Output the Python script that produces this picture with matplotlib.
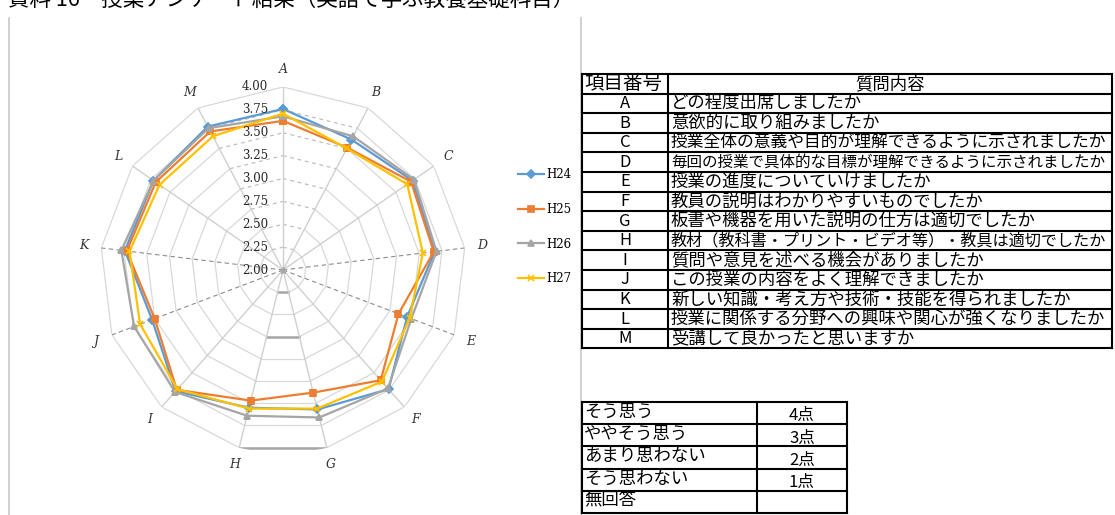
"""Radar chart of course survey results with the question table beside it."""

import matplotlib

matplotlib.use("Agg")
import matplotlib.pyplot as plt
import matplotlib.transforms as mtransforms
import numpy as np

JP_FONT = ["Noto Sans CJK JP", "DejaVu Sans"]
SERIF = "DejaVu Serif"

TITLE = "資料 16　授業アンケート結果（英語で学ぶ教養基礎科目）"

AXIS_LABELS = ["A", "B", "C", "D", "E", "F", "G", "H", "I", "J", "K", "L", "M"]
YEARS = ["H24", "H25", "H26", "H27"]
H24 = [3.76, 3.61, 3.72, 3.67, 3.45, 3.74, 3.57, 3.55, 3.77, 3.53, 3.74, 3.72, 3.77]
H25 = [3.63, 3.51, 3.70, 3.66, 3.35, 3.61, 3.38, 3.47, 3.75, 3.50, 3.72, 3.69, 3.71]
H26 = [3.68, 3.65, 3.74, 3.69, 3.50, 3.73, 3.66, 3.64, 3.78, 3.74, 3.78, 3.72, 3.75]
H27 = [3.71, 3.50, 3.65, 3.54, 3.48, 3.63, 3.56, 3.56, 3.74, 3.67, 3.69, 3.64, 3.65]
R_TICKS = [2.00, 2.25, 2.50, 2.75, 3.00, 3.25, 3.50, 3.75, 4.00]

COLORS = ["#5B9BD5", "#ED7D31", "#A5A5A5", "#FFC000"]
MARKERS = ["D", "s", "^", "x"]
DASHED_SPOKES = ["D", "E", "J", "K"]
DARK_HG_LEVELS = [2.25, 2.75, 4.00]

TABLE_HEADER = ["項目番号", "質問内容"]
QUESTIONS = [
    "どの程度出席しましたか",
    "意欲的に取り組みましたか",
    "授業全体の意義や目的が理解できるように示されましたか",
    "毎回の授業で具体的な目標が理解できるように示されましたか",
    "授業の進度についていけましたか",
    "教員の説明はわかりやすいものでしたか",
    "板書や機器を用いた説明の仕方は適切でしたか",
    "教材（教科書・プリント・ビデオ等）・教具は適切でしたか",
    "質問や意見を述べる機会がありましたか",
    "この授業の内容をよく理解できましたか",
    "新しい知識・考え方や技術・技能を得られましたか",
    "授業に関係する分野への興味や関心が強くなりましたか",
    "受講して良かったと思いますか",
]
SCALE_LABELS = ["そう思う", "ややそう思う", "あまり思わない", "そう思わない", "無回答"]
SCALE_POINTS = ["4点", "3点", "2点", "1点", ""]

W, H = 1115, 515


def draw_radar(fig):
    # center at (283, 270) px from top-left, outer radius 183 px
    ax = fig.add_axes([100 / W, (H - 270 - 183) / H, 366 / W, 366 / H], projection="polar")
    ax.set_theta_zero_location("N")
    ax.set_theta_direction(-1)
    ax.set_ylim(R_TICKS[0], R_TICKS[-1])
    ax.grid(False)
    ax.set_xticks([])
    ax.set_yticks([])
    ax.spines["polar"].set_visible(False)
    ax.patch.set_visible(False)

    n = len(AXIS_LABELS)
    theta = np.arange(n) * 2 * np.pi / n
    closed = np.append(theta, theta[0])

    # polygon rings
    for lvl in R_TICKS[1:]:
        for i in range(n):
            seg = [closed[i], closed[i + 1]]
            near_a = i in (0, n - 1) and lvl < R_TICKS[-1]
            ax.plot(seg, [lvl, lvl], color="#bfbfbf" if near_a else "#d9d9d9",
                    lw=0.9, ls=(0, (3, 3)) if near_a else "-", zorder=1)
    for lvl in DARK_HG_LEVELS:
        ax.plot([theta[6], theta[7]], [lvl, lvl], color="#a6a6a6", lw=1.8, zorder=1)

    # spokes
    for th, name in zip(theta, AXIS_LABELS):
        if name in DASHED_SPOKES:
            ax.plot([th, th], [R_TICKS[0], R_TICKS[-1]], color="#8c8c8c", lw=0.8,
                    ls=(0, (4, 3)), zorder=1)
        else:
            ax.plot([th, th], [R_TICKS[0], R_TICKS[-1]], color="#d0d0d0", lw=1.0, zorder=1)
        ax.text(th, 4.19, name, ha="center", va="center", family=SERIF,
                style="italic", fontsize=9, color="#333333")

    handles = []
    for vals, color, marker in zip([H24, H25, H26, H27], COLORS, MARKERS):
        (line,) = ax.plot(closed, vals + vals[:1], color=color, lw=1.6, marker=marker,
                          markersize=4.5 if marker != "x" else 5, markeredgewidth=1.2,
                          zorder=3)
        handles.append(line)

    ax.plot([0], [R_TICKS[0]], marker="*", color="#a6a6a6", markersize=5, zorder=2)

    shift = mtransforms.offset_copy(ax.transData, fig=fig, x=-15, y=0, units="dots")
    for lvl in R_TICKS:
        ax.text(0, lvl, f"{lvl:.2f}", transform=shift, ha="right", va="center",
                family=SERIF, fontsize=8.5, color="#262626", zorder=4)

    fig.legend(handles, YEARS, loc="upper left", bbox_to_anchor=(512 / W, 1 - 162 / H),
               frameon=False, borderpad=0, handlelength=2.2, handletextpad=0.25,
               labelspacing=1.85, prop={"family": SERIF, "size": 8.5})


def fit_text(ax, renderer, x, y, s, max_w, size=12.5, **kw):
    t = ax.text(x, y, s, family=JP_FONT, fontsize=size, **kw)
    w = t.get_window_extent(renderer).width
    if w > max_w:
        t.set_fontsize(size * max_w / w)
    return t


def draw_tables(fig):
    ax = fig.add_axes([0, 0, 1, 1])
    ax.set_xlim(0, W)
    ax.set_ylim(H, 0)
    ax.axis("off")
    renderer = fig.canvas.get_renderer()
    lw = 1.5

    # chart frame edges
    ax.plot([9, 9], [18, H], color="#c8c8c8", lw=1.2)
    ax.plot([581, 581], [18, H], color="#c8c8c8", lw=1.2)

    # question table
    left, mid, right, top, row_h = 582, 668, 1112, 74, 19.6
    n_rows = len(QUESTIONS) + 1
    bottom = top + n_rows * row_h
    for k in range(n_rows + 1):
        y = top + k * row_h
        ax.plot([left, right], [y, y], color="black", lw=lw, solid_capstyle="projecting")
    for x in (left, mid, right):
        ax.plot([x, x], [top, bottom], color="black", lw=lw)
    fit_text(ax, renderer, left + 2, top + row_h / 2, TABLE_HEADER[0], mid - left - 4,
             size=14, ha="left", va="center")
    ax.text((mid + right) / 2, top + row_h / 2, TABLE_HEADER[1], ha="center", va="center",
            family=JP_FONT, fontsize=12.5)
    for k, (qid, text) in enumerate(zip(AXIS_LABELS, QUESTIONS), start=1):
        yc = top + (k + 0.5) * row_h
        ax.text((left + mid) / 2, yc, qid, ha="center", va="center", family=JP_FONT,
                fontsize=12)
        fit_text(ax, renderer, mid + 3, yc, text, right - mid - 8, ha="left", va="center")

    # scale table
    left, mid, right, top, row_h = 582, 757, 847, 402, 22.2
    n_rows = len(SCALE_LABELS)
    bottom = top + n_rows * row_h
    for k in range(n_rows + 1):
        y = top + k * row_h
        ax.plot([left, right], [y, y], color="black", lw=lw, solid_capstyle="projecting")
    for x in (left, mid, right):
        ax.plot([x, x], [top, bottom], color="black", lw=lw)
    for k, (label, pts) in enumerate(zip(SCALE_LABELS, SCALE_POINTS)):
        y0 = top + k * row_h
        ax.text(left + 2, y0 + row_h * 0.45, label, ha="left", va="center",
                family=JP_FONT, fontsize=12.5)
        ax.text((mid + right) / 2, y0 + row_h * 0.62, pts, ha="center", va="center",
                family=JP_FONT, fontsize=12)


def main():
    fig = plt.figure(figsize=(W / 100, H / 100), dpi=100)
    fig.patch.set_facecolor("white")
    draw_tables(fig)
    draw_radar(fig)
    fig.text(8 / W, 1.0, TITLE, ha="left", va="center", family=JP_FONT, fontsize=15.5)
    fig.savefig("out.png", dpi=100)
    plt.close(fig)


if __name__ == "__main__":
    main()
